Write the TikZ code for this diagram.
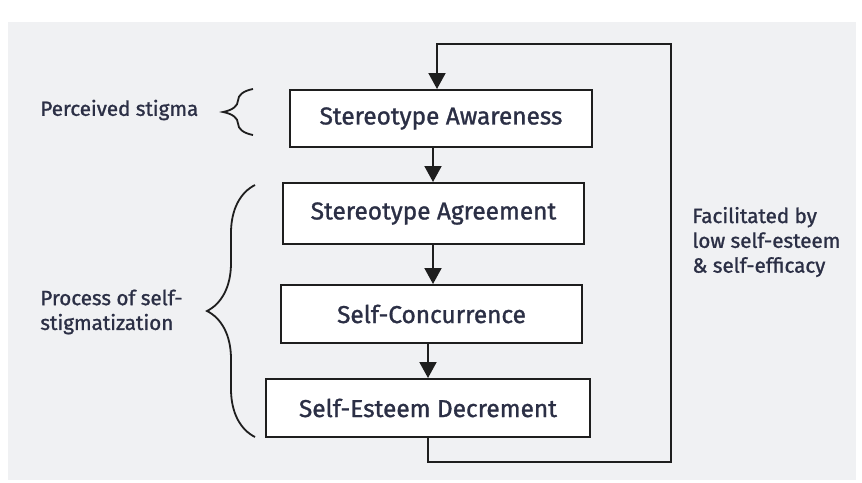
\documentclass[tikz,border=0pt]{standalone}
\usepackage{fontspec}
\setmainfont{Fira Sans}
\newfontfamily\medfont{Fira Sans}[FakeBold=1.2]
\usetikzlibrary{arrows.meta,decorations.pathreplacing}
\definecolor{bgray}{HTML}{F0F1F3}
\definecolor{labtext}{HTML}{2B2F45}
\definecolor{linegray}{HTML}{1E1E1E}

\begin{document}
\begin{tikzpicture}[x=0.5pt,y=-0.5pt,
  stage/.style={draw=linegray,fill=white,line width=1pt,inner sep=0pt,text=labtext,font=\medfont\fontsize{12.2}{14}\selectfont},
  side/.style={align=left,anchor=west,inner sep=0pt,text=labtext,font=\medfont\fontsize{10.3}{12.4}\selectfont},
  arr/.style={draw=linegray,line width=1pt,-{Triangle[width=8.5pt,length=8pt]}},
  curly/.style={draw=linegray,line width=0.9pt,decorate,decoration={brace,amplitude=#1}}]
\useasboundingbox (0,0) rectangle (862,482);
\fill[bgray] (8,22) rectangle (856,480);

\node[stage,minimum width=151pt,minimum height=28.5pt] (b1) at (441,118.5) {Stereotype Awareness};
\node[stage,minimum width=150.5pt,minimum height=30.5pt] (b2) at (433.5,213.5) {Stereotype Agreement};
\node[stage,minimum width=150.5pt,minimum height=29pt] (b3) at (431.5,314) {Self-Concurrence};
\node[stage,minimum width=162pt,minimum height=29pt] (b4) at (428,408) {Self-Esteem Decrement};

\node[side] (perc) at (40,110) {Perceived stigma};
\node[side] (proc) at (40,312) {Process of self-\\stigmatization};
\node[side] (facil) at (692,242) {Facilitated by\\low self-esteem\\\& self-efficacy};

\coordinate (ax) at (433,0);
\coordinate (bx) at (428,0);
\coordinate (lx) at (437,0);
\coordinate (loopse) at (671,462);
\coordinate (loopne) at (671,44);

\draw[arr] (b1.south -| ax) -- (b2.north -| ax);
\draw[arr] (b2.south -| ax) -- (b3.north -| ax);
\draw[arr] (b3.south -| bx) -- (b4.north -| bx);
\draw[arr] (b4.south -| bx) |- (loopse) -- (loopne) -| (b1.north -| lx);

\coordinate (pbot) at (253,135);
\coordinate (ptop) at (253,89);
\coordinate (sbot) at (255,437);
\coordinate (stop) at (255,185);
\draw[curly=15pt] (pbot) -- (ptop);
\draw[curly=24pt] (sbot) -- (stop);

\end{tikzpicture}
\end{document}
